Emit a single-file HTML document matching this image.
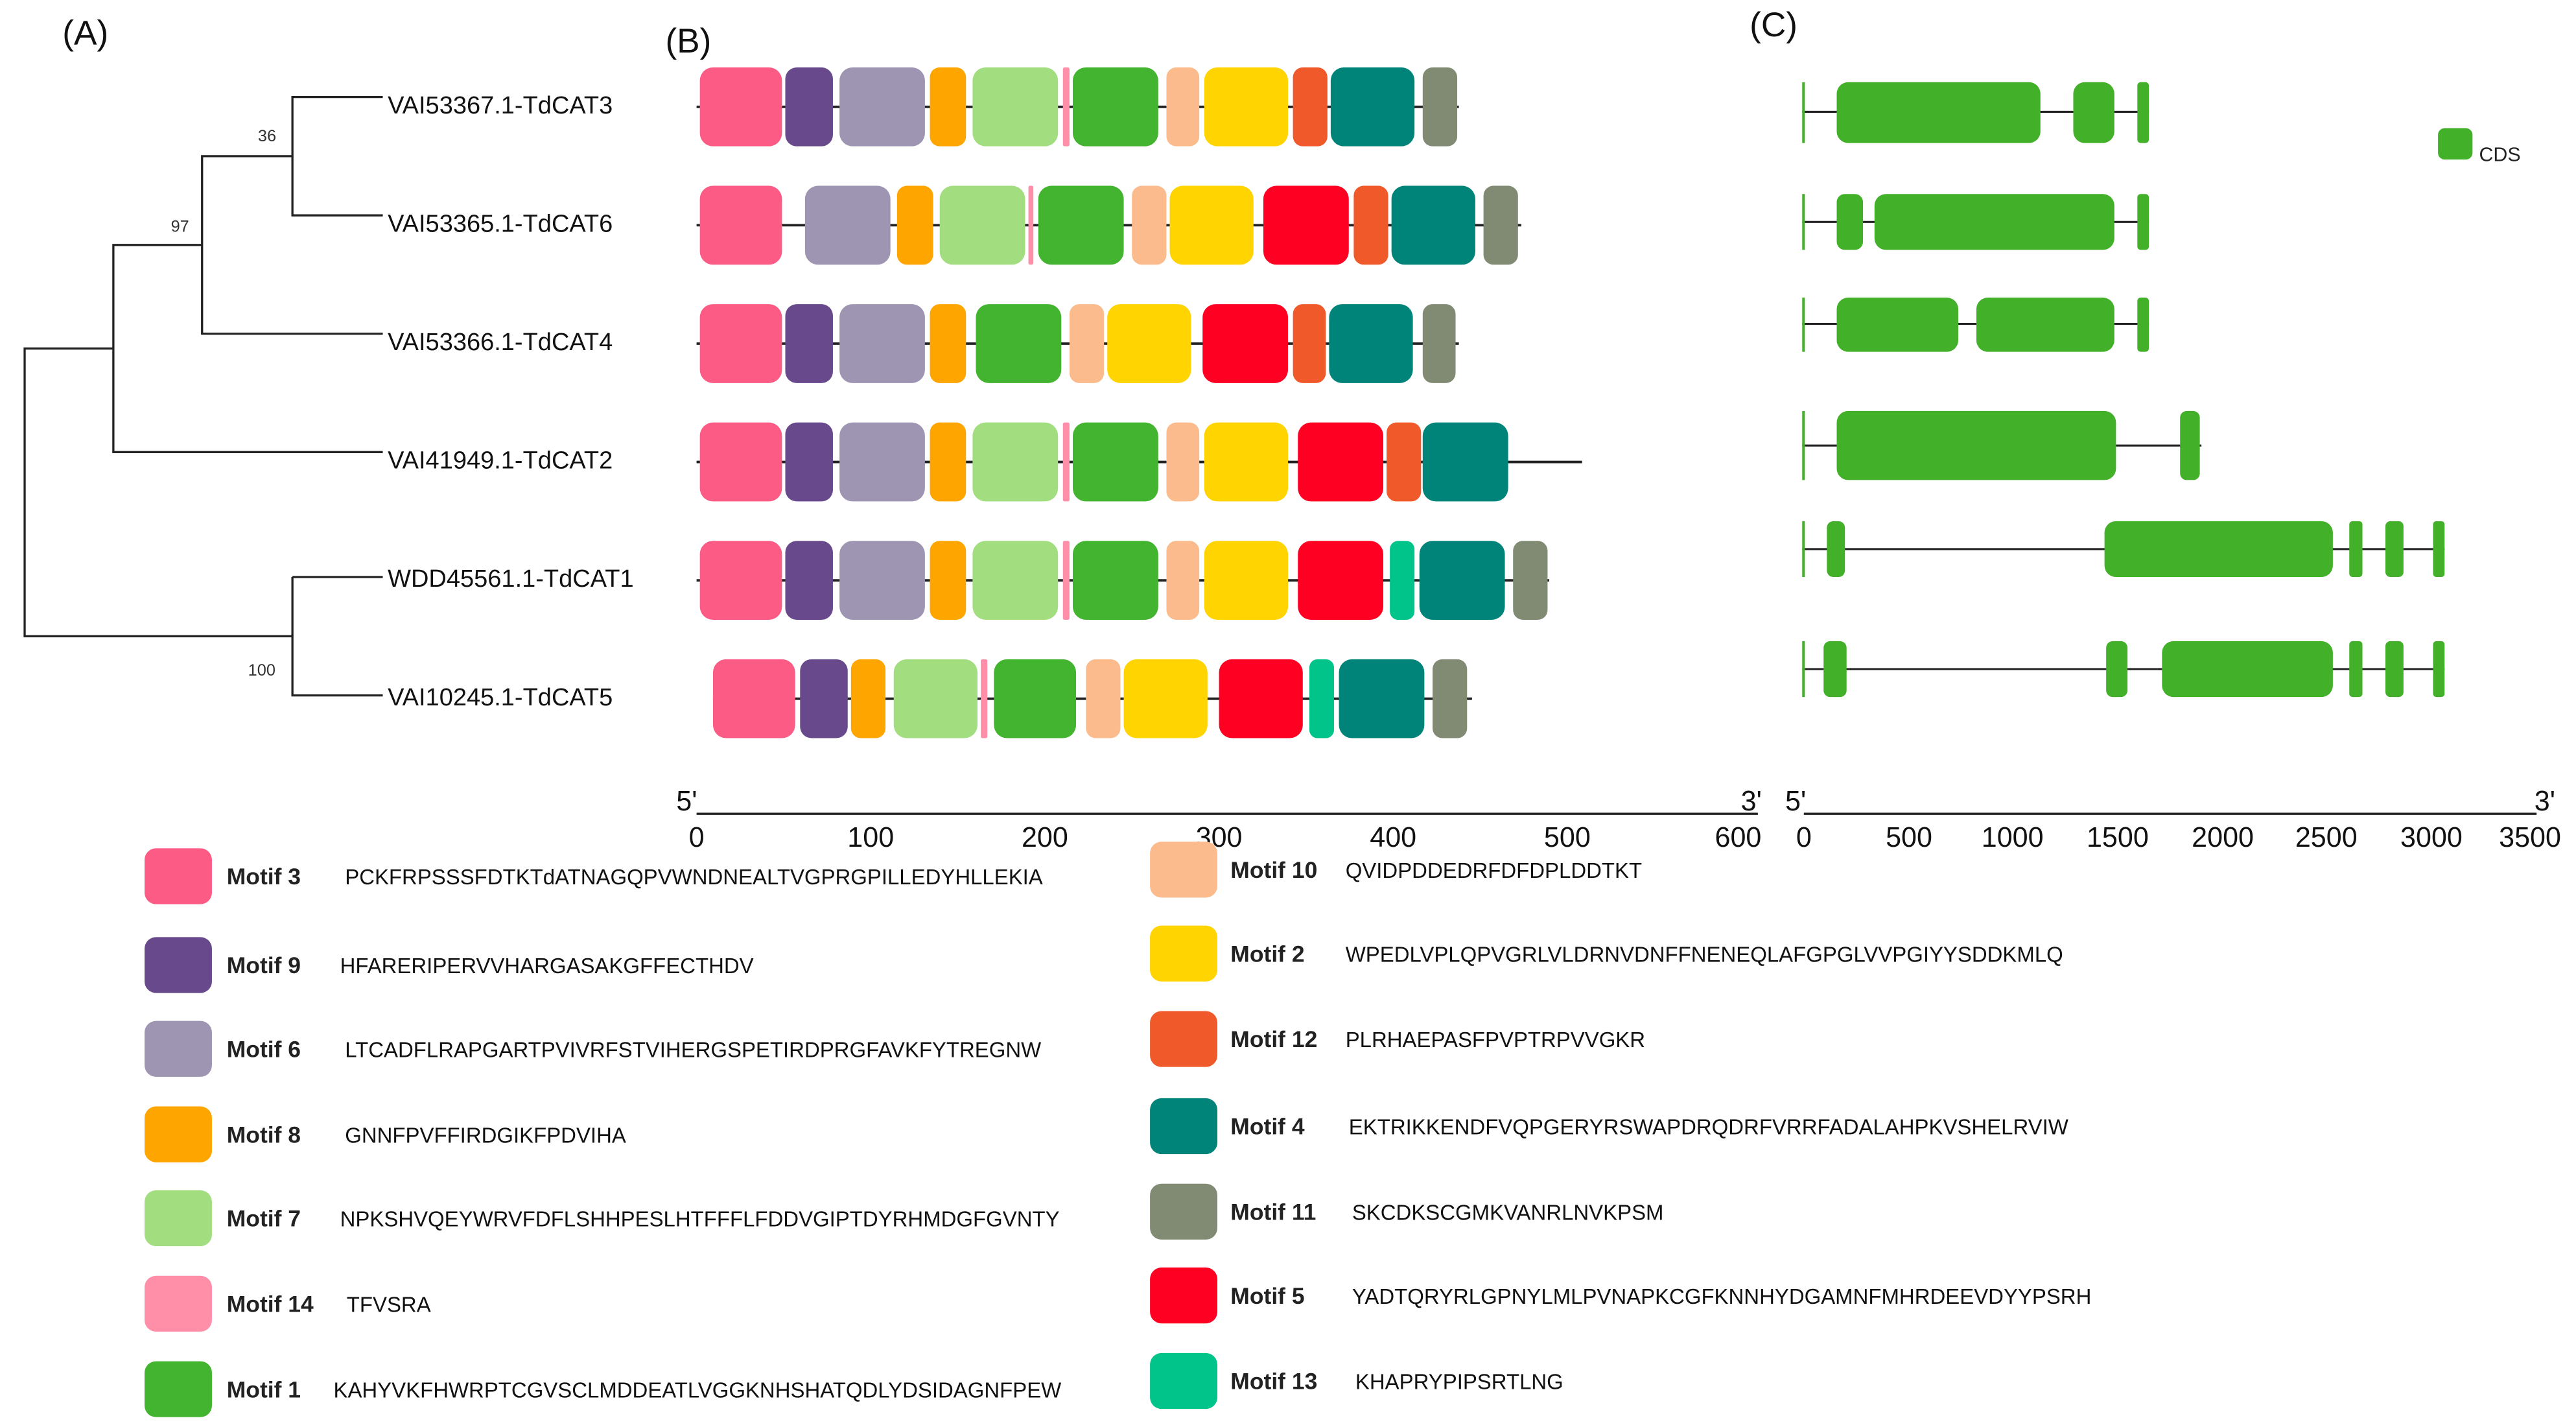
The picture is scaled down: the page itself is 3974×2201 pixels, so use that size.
<!DOCTYPE html>
<html><head><meta charset="utf-8"><style>
html,body{margin:0;padding:0;background:#fff;width:3974px;height:2201px;overflow:hidden}
svg{display:block}
text{font-family:"Liberation Sans",sans-serif}
.l{stroke:#222;stroke-width:1.3;fill:none}
.tl{font-size:15px;fill:#111}
.bs{font-size:10px;fill:#333}
.pl{font-size:21px;fill:#111}
.ax{font-size:17px;fill:#111}
.ml{font-size:14px;font-weight:bold;fill:#222}
.sq{font-size:13px;fill:#111}
.pk{fill:#fb5b84}.pu{fill:#684a8c}.gy{fill:#9e95b3}.or{fill:#ffa500}.lg{fill:#a2de80}.tp{fill:#ff8fa8}.gr{fill:#43b42f}.pe{fill:#fbbb8c}.ye{fill:#ffd400}.rr{fill:#f05a2a}.te{fill:#008479}.gg{fill:#818b73}.re{fill:#fe0022}.mi{fill:#00c48a}
.g{fill:#43b02a}
</style></head><body>
<svg width="3974" height="2201" viewBox="0 0 1568 868" preserveAspectRatio="none" xmlns="http://www.w3.org/2000/svg">
<text x="38" y="27" class="pl">(A)</text>
<text x="405" y="32" class="pl">(B)</text>
<text x="1065" y="22" class="pl">(C)</text>
<path class="l" d="M233 59H178V131H233 M178 95H123V203H233 M123 149H69V275H233 M69 212H15V387H178 M178 351H233 M178 351V423H233"/>
<text x="157" y="86" class="bs">36</text>
<text x="104" y="141" class="bs">97</text>
<text x="151" y="411" class="bs">100</text>
<text x="236" y="69" class="tl">VAI53367.1-TdCAT3</text>
<text x="236" y="141" class="tl">VAI53365.1-TdCAT6</text>
<text x="236" y="213" class="tl">VAI53366.1-TdCAT4</text>
<text x="236" y="285" class="tl">VAI41949.1-TdCAT2</text>
<text x="236" y="357" class="tl">WDD45561.1-TdCAT1</text>
<text x="236" y="429" class="tl">VAI10245.1-TdCAT5</text>

<g transform="translate(0,41)">
<line x1="424" y1="24" x2="888" y2="24" stroke="#222" stroke-width="1.5"/>
<rect class="pk" x="426" width="50" height="48" rx="8"/><rect class="pu" x="478" width="29" height="48" rx="7"/><rect class="gy" x="511" width="52" height="48" rx="8"/><rect class="or" x="566" width="22" height="48" rx="6"/><rect class="lg" x="592" width="52" height="48" rx="8"/><rect class="tp" x="647" width="4" height="48" rx="1"/><rect class="gr" x="653" width="52" height="48" rx="8"/><rect class="pe" x="710" width="20" height="48" rx="6"/><rect class="ye" x="733" width="51" height="48" rx="8"/><rect class="rr" x="787" width="21" height="48" rx="6"/><rect class="te" x="810" width="51" height="48" rx="8"/><rect class="gg" x="866" width="21" height="48" rx="6"/>
</g>
<g transform="translate(0,113)">
<line x1="424" y1="24" x2="926" y2="24" stroke="#222" stroke-width="1.5"/>
<rect class="pk" x="426" width="50" height="48" rx="8"/><rect class="gy" x="490" width="52" height="48" rx="8"/><rect class="or" x="546" width="22" height="48" rx="6"/><rect class="lg" x="572" width="52" height="48" rx="8"/><rect class="tp" x="626" width="3" height="48" rx="1"/><rect class="gr" x="632" width="52" height="48" rx="8"/><rect class="pe" x="689" width="21" height="48" rx="6"/><rect class="ye" x="712" width="51" height="48" rx="8"/><rect class="re" x="769" width="52" height="48" rx="8"/><rect class="rr" x="824" width="21" height="48" rx="6"/><rect class="te" x="847" width="51" height="48" rx="8"/><rect class="gg" x="903" width="21" height="48" rx="6"/>
</g>
<g transform="translate(0,185)">
<line x1="424" y1="24" x2="888" y2="24" stroke="#222" stroke-width="1.5"/>
<rect class="pk" x="426" width="50" height="48" rx="8"/><rect class="pu" x="478" width="29" height="48" rx="7"/><rect class="gy" x="511" width="52" height="48" rx="8"/><rect class="or" x="566" width="22" height="48" rx="6"/><rect class="gr" x="594" width="52" height="48" rx="8"/><rect class="pe" x="651" width="21" height="48" rx="6"/><rect class="ye" x="674" width="51" height="48" rx="8"/><rect class="re" x="732" width="52" height="48" rx="8"/><rect class="rr" x="787" width="20" height="48" rx="6"/><rect class="te" x="809" width="51" height="48" rx="8"/><rect class="gg" x="866" width="20" height="48" rx="6"/>
</g>
<g transform="translate(0,257)">
<line x1="424" y1="24" x2="963" y2="24" stroke="#222" stroke-width="1.5"/>
<rect class="pk" x="426" width="50" height="48" rx="8"/><rect class="pu" x="478" width="29" height="48" rx="7"/><rect class="gy" x="511" width="52" height="48" rx="8"/><rect class="or" x="566" width="22" height="48" rx="6"/><rect class="lg" x="592" width="52" height="48" rx="8"/><rect class="tp" x="647" width="4" height="48" rx="1"/><rect class="gr" x="653" width="52" height="48" rx="8"/><rect class="pe" x="710" width="20" height="48" rx="6"/><rect class="ye" x="733" width="51" height="48" rx="8"/><rect class="re" x="790" width="52" height="48" rx="8"/><rect class="rr" x="844" width="21" height="48" rx="6"/><rect class="te" x="866" width="52" height="48" rx="8"/>
</g>
<g transform="translate(0,329)">
<line x1="424" y1="24" x2="943" y2="24" stroke="#222" stroke-width="1.5"/>
<rect class="pk" x="426" width="50" height="48" rx="8"/><rect class="pu" x="478" width="29" height="48" rx="7"/><rect class="gy" x="511" width="52" height="48" rx="8"/><rect class="or" x="566" width="22" height="48" rx="6"/><rect class="lg" x="592" width="52" height="48" rx="8"/><rect class="tp" x="647" width="4" height="48" rx="1"/><rect class="gr" x="653" width="52" height="48" rx="8"/><rect class="pe" x="710" width="20" height="48" rx="6"/><rect class="ye" x="733" width="51" height="48" rx="8"/><rect class="re" x="790" width="52" height="48" rx="8"/><rect class="mi" x="846" width="15" height="48" rx="5"/><rect class="te" x="864" width="52" height="48" rx="8"/><rect class="gg" x="921" width="21" height="48" rx="6"/>
</g>
<g transform="translate(0,401)">
<line x1="434" y1="24" x2="896" y2="24" stroke="#222" stroke-width="1.5"/>
<rect class="pk" x="434" width="50" height="48" rx="8"/><rect class="pu" x="487" width="29" height="48" rx="7"/><rect class="or" x="518" width="21" height="48" rx="6"/><rect class="lg" x="544" width="51" height="48" rx="8"/><rect class="tp" x="597" width="4" height="48" rx="1"/><rect class="gr" x="605" width="50" height="48" rx="8"/><rect class="pe" x="661" width="21" height="48" rx="6"/><rect class="ye" x="684" width="51" height="48" rx="8"/><rect class="re" x="742" width="51" height="48" rx="8"/><rect class="mi" x="797" width="15" height="48" rx="5"/><rect class="te" x="815" width="52" height="48" rx="8"/><rect class="gg" x="872" width="21" height="48" rx="6"/>
</g>

<path class="l" stroke-width="2" d="M424 495H1070"/>
<g class="ax" text-anchor="middle">
<text x="424" y="515">0</text><text x="530" y="515">100</text><text x="636" y="515">200</text><text x="742" y="515">300</text><text x="848" y="515">400</text><text x="954" y="515">500</text><text x="1058" y="515">600</text>
<text x="418" y="493">5'</text><text x="1066" y="493">3'</text>
</g>
<path class="l" stroke-width="2" d="M1098 495H1544"/>
<g class="ax" text-anchor="middle">
<text x="1098" y="515">0</text><text x="1162" y="515">500</text><text x="1225" y="515">1000</text><text x="1289" y="515">1500</text><text x="1353" y="515">2000</text><text x="1416" y="515">2500</text><text x="1480" y="515">3000</text><text x="1540" y="515">3500</text>
<text x="1093" y="493">5'</text><text x="1549" y="493">3'</text>
</g>

<g transform="translate(0,50)">
<line x1="1097" y1="18" x2="1308" y2="18" stroke="#222" stroke-width="1.2"/>
<rect class="g" x="1097" width="1.6" height="37"/>
<rect class="g" x="1118" width="124" height="37" rx="7"/><rect class="g" x="1262" width="25" height="37" rx="7"/><rect class="g" x="1301" width="7" height="37" rx="2"/>
</g>
<g transform="translate(0,118)">
<line x1="1097" y1="17" x2="1308" y2="17" stroke="#222" stroke-width="1.2"/>
<rect class="g" x="1097" width="1.6" height="34"/>
<rect class="g" x="1118" width="16" height="34" rx="5"/><rect class="g" x="1141" width="146" height="34" rx="7"/><rect class="g" x="1301" width="7" height="34" rx="2"/>
</g>
<g transform="translate(0,181)">
<line x1="1097" y1="16" x2="1308" y2="16" stroke="#222" stroke-width="1.2"/>
<rect class="g" x="1097" width="1.6" height="33"/>
<rect class="g" x="1118" width="74" height="33" rx="7"/><rect class="g" x="1203" width="84" height="33" rx="7"/><rect class="g" x="1301" width="7" height="33" rx="2"/>
</g>
<g transform="translate(0,250)">
<line x1="1097" y1="21" x2="1340" y2="21" stroke="#222" stroke-width="1.2"/>
<rect class="g" x="1097" width="1.6" height="42"/>
<rect class="g" x="1118" width="170" height="42" rx="7"/><rect class="g" x="1327" width="12" height="42" rx="4"/>
</g>
<g transform="translate(0,317)">
<line x1="1097" y1="17" x2="1488" y2="17" stroke="#222" stroke-width="1.2"/>
<rect class="g" x="1097" width="1.6" height="34"/>
<rect class="g" x="1112" width="11" height="34" rx="4"/><rect class="g" x="1281" width="139" height="34" rx="7"/><rect class="g" x="1430" width="8" height="34" rx="2"/><rect class="g" x="1452" width="11" height="34" rx="3"/><rect class="g" x="1481" width="7" height="34" rx="2"/>
</g>
<g transform="translate(0,390)">
<line x1="1097" y1="17" x2="1488" y2="17" stroke="#222" stroke-width="1.2"/>
<rect class="g" x="1097" width="1.6" height="34"/>
<rect class="g" x="1110" width="14" height="34" rx="4"/><rect class="g" x="1282" width="13" height="34" rx="4"/><rect class="g" x="1316" width="104" height="34" rx="7"/><rect class="g" x="1430" width="8" height="34" rx="2"/><rect class="g" x="1452" width="11" height="34" rx="3"/><rect class="g" x="1481" width="7" height="34" rx="2"/>
</g>
<rect x="1484" y="78" width="21" height="19" rx="4" class="g"/>
<text x="1509" y="98" style="font-size:12px;fill:#222">CDS</text>

<rect class="pk" x="88" y="516" width="41" height="34" rx="7"/><text x="138" y="538" class="ml">Motif 3</text><text x="210" y="538" class="sq">PCKFRPSSSFDTKTdATNAGQPVWNDNEALTVGPRGPILLEDYHLLEKIA</text>
<rect class="pu" x="88" y="570" width="41" height="34" rx="7"/><text x="138" y="592" class="ml">Motif 9</text><text x="207" y="592" class="sq">HFARERIPERVVHARGASAKGFFECTHDV</text>
<rect class="gy" x="88" y="621" width="41" height="34" rx="7"/><text x="138" y="643" class="ml">Motif 6</text><text x="210" y="643" class="sq">LTCADFLRAPGARTPVIVRFSTVIHERGSPETIRDPRGFAVKFYTREGNW</text>
<rect class="or" x="88" y="673" width="41" height="34" rx="7"/><text x="138" y="695" class="ml">Motif 8</text><text x="210" y="695" class="sq">GNNFPVFFIRDGIKFPDVIHA</text>
<rect class="lg" x="88" y="724" width="41" height="34" rx="7"/><text x="138" y="746" class="ml">Motif 7</text><text x="207" y="746" class="sq">NPKSHVQEYWRVFDFLSHHPESLHTFFFLFDDVGIPTDYRHMDGFGVNTY</text>
<rect class="tp" x="88" y="776" width="41" height="34" rx="7"/><text x="138" y="798" class="ml">Motif 14</text><text x="211" y="798" class="sq">TFVSRA</text>
<rect class="gr" x="88" y="828" width="41" height="34" rx="7"/><text x="138" y="850" class="ml">Motif 1</text><text x="203" y="850" class="sq">KAHYVKFHWRPTCGVSCLMDDEATLVGGKNHSHATQDLYDSIDAGNFPEW</text>

<rect class="pe" x="700" y="512" width="41" height="34" rx="7"/><text x="749" y="534" class="ml">Motif 10</text><text x="819" y="534" class="sq">QVIDPDDEDRFDFDPLDDTKT</text>
<rect class="ye" x="700" y="563" width="41" height="34" rx="7"/><text x="749" y="585" class="ml">Motif 2</text><text x="819" y="585" class="sq">WPEDLVPLQPVGRLVLDRNVDNFFNENEQLAFGPGLVVPGIYYSDDKMLQ</text>
<rect class="rr" x="700" y="615" width="41" height="34" rx="7"/><text x="749" y="637" class="ml">Motif 12</text><text x="819" y="637" class="sq">PLRHAEPASFPVPTRPVVGKR</text>
<rect class="te" x="700" y="668" width="41" height="34" rx="7"/><text x="749" y="690" class="ml">Motif 4</text><text x="821" y="690" class="sq">EKTRIKKENDFVQPGERYRSWAPDRQDRFVRRFADALAHPKVSHELRVIW</text>
<rect class="gg" x="700" y="720" width="41" height="34" rx="7"/><text x="749" y="742" class="ml">Motif 11</text><text x="823" y="742" class="sq">SKCDKSCGMKVANRLNVKPSM</text>
<rect class="re" x="700" y="771" width="41" height="34" rx="7"/><text x="749" y="793" class="ml">Motif 5</text><text x="823" y="793" class="sq">YADTQRYRLGPNYLMLPVNAPKCGFKNNHYDGAMNFMHRDEEVDYYPSRH</text>
<rect class="mi" x="700" y="823" width="41" height="34" rx="7"/><text x="749" y="845" class="ml">Motif 13</text><text x="825" y="845" class="sq">KHAPRYPIPSRTLNG</text>
</svg>
</body></html>
